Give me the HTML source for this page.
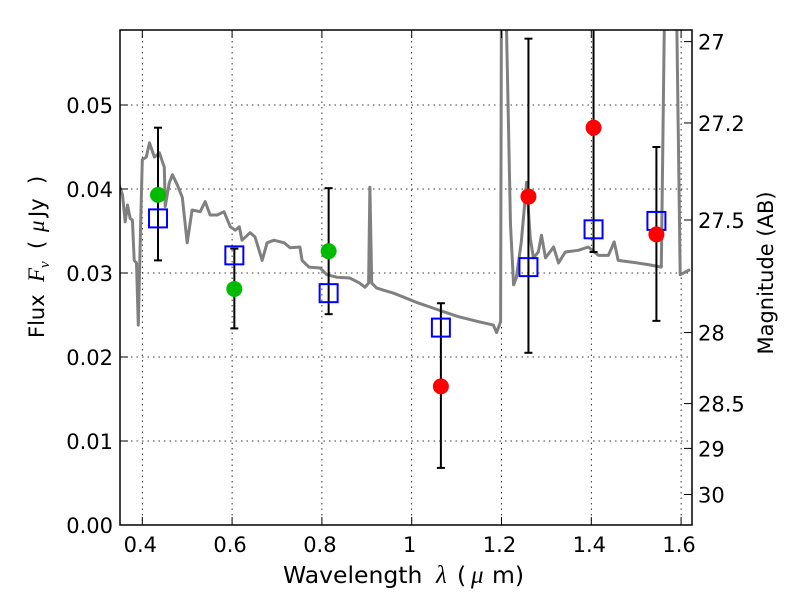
<!DOCTYPE html>
<html><head><meta charset="utf-8"><style>
body{margin:0;background:#fff}
svg text{font-family:"DejaVu Sans","Liberation Sans",sans-serif;fill:#000}
svg .m{font-family:"Liberation Serif","DejaVu Serif",serif;font-style:italic}
</style></head><body>
<svg id="chart" width="800" height="600" viewBox="0 0 800 600" xmlns="http://www.w3.org/2000/svg">
<defs><clipPath id="clip"><rect x="120" y="30" width="572" height="495"/></clipPath></defs>
<rect width="800" height="600" fill="#fff"/>
<g id="grid"></g>
<g id="spec" clip-path="url(#clip)"></g>
<g id="marks" clip-path="url(#clip)"></g>
<rect x="120" y="30" width="572" height="495" fill="none" stroke="#000" stroke-width="1.5"/>
<g id="axes"></g>
<text y="583" font-size="23.5"><tspan x="283">Wavelength</tspan><tspan x="436" class="m" font-size="25">λ</tspan><tspan x="457">(</tspan><tspan x="471" class="m" font-size="25">μ</tspan><tspan x="492">m)</tspan></text>
<g transform="translate(44,278) rotate(-90)">
<text y="0" font-size="21"><tspan x="-60">Flux</tspan><tspan x="-4" class="m" font-size="23">F</tspan><tspan x="10" class="m" font-size="15" dy="5">ν</tspan><tspan x="29" dy="-5">(</tspan><tspan x="46" class="m" font-size="23">μ</tspan><tspan x="61">Jy</tspan><tspan x="94">)</tspan></text>
</g>
<text transform="translate(773,273) rotate(-90)" text-anchor="middle" font-size="21">Magnitude (AB)</text>
</svg>
<script>
const specW=[0.349,0.356,0.362,0.367,0.373,0.378,0.382,0.387,0.391,0.396,0.4,0.409,0.416,0.427,0.438,0.449,0.451,0.46,0.467,0.478,0.489,0.5,0.511,0.529,0.54,0.551,0.567,0.582,0.596,0.607,0.616,0.622,0.64,0.651,0.667,0.678,0.693,0.716,0.729,0.751,0.756,0.771,0.796,0.811,0.833,0.862,0.884,0.896,0.904,0.907,0.911,0.922,0.96,1.011,1.06,1.104,1.149,1.182,1.189,1.198,1.2,1.209,1.22,1.227,1.233,1.244,1.256,1.264,1.271,1.282,1.289,1.298,1.316,1.327,1.342,1.371,1.393,1.416,1.438,1.451,1.46,1.489,1.527,1.556,1.564,1.589,1.598,1.62];
const specF=[0.0404,0.0393,0.0361,0.0381,0.0365,0.0363,0.0315,0.0312,0.0238,0.0351,0.0435,0.0438,0.0455,0.0438,0.0443,0.0426,0.0379,0.0407,0.0417,0.0405,0.039,0.0336,0.0375,0.0373,0.0385,0.0369,0.0369,0.0373,0.0355,0.0351,0.0355,0.0339,0.0348,0.0343,0.0315,0.0336,0.0339,0.0336,0.033,0.0331,0.0315,0.0307,0.0306,0.0298,0.0295,0.0294,0.0288,0.0283,0.0288,0.0402,0.0288,0.0282,0.0276,0.0265,0.0256,0.0248,0.0242,0.0238,0.0229,0.0242,0.065,0.065,0.0357,0.0286,0.0294,0.0337,0.0408,0.0342,0.0318,0.0325,0.0345,0.0318,0.0331,0.0312,0.0325,0.0327,0.0331,0.0321,0.0321,0.0337,0.0315,0.0313,0.031,0.0307,0.065,0.065,0.0298,0.0304];
const bandW=[0.435,0.605,0.815,1.065,1.26,1.405,1.545];
const obsF=[0.0393,0.0281,0.0326,0.0165,0.0391,0.0473,0.0346];
const obsColor=['#00bb00','#00bb00','#00bb00','#ff0000','#ff0000','#ff0000','#ff0000'];
const errLo=[0.0315,0.0234,0.0251,0.0068,0.0205,0.0325,0.0243];
const errHi=[0.0473,0.0329,0.0401,0.0264,0.0579,0.065,0.045];
const modelF=[0.0365,0.0321,0.0276,0.0235,0.0307,0.0352,0.0362];
const xTicks=[0.4,0.6,0.8,1.0,1.2,1.4,1.6];
const xLabels=['0.4','0.6','0.8','1','1.2','1.4','1.6'];
const yTicks=[0,0.01,0.02,0.03,0.04,0.05];
const yLabels=['0.00','0.01','0.02','0.03','0.04','0.05'];
const magTicks=[27,27.2,27.5,28,28.5,29,30];
const magLabels=['27','27.2','27.5','28','28.5','29','30'];
const NS='http://www.w3.org/2000/svg';
const X=w=>142.3+(w-0.4)*449;
const Y=f=>525-f*8400;
const magToF=m=>Math.pow(10,(23.9-m)/2.5);
function mk(tag,attrs,parent){const e=document.createElementNS(NS,tag);for(const k in attrs)e.setAttribute(k,attrs[k]);parent.appendChild(e);return e;}
const grid=document.getElementById('grid'),axes=document.getElementById('axes'),spec=document.getElementById('spec'),marks=document.getElementById('marks');
xTicks.forEach((t,i)=>{const x=X(t);
 const g=mk('line',{x1:x,x2:x,y1:30,y2:525,stroke:'#000','stroke-width':0.8,'stroke-dasharray':'1.5,4'},grid);
 
 
 mk('line',{x1:x,x2:x,y1:525,y2:517,stroke:'#000','stroke-width':1},axes);
 mk('line',{x1:x,x2:x,y1:30,y2:38,stroke:'#000','stroke-width':1},axes);
 const tx=mk('text',{x:x-2,y:552,'text-anchor':'middle','font-size':21},axes);tx.textContent=xLabels[i];
 
 });
yTicks.forEach((t,i)=>{const y=Y(t);
 const g=mk('line',{x1:120,x2:692,y1:y,y2:y,stroke:'#000','stroke-width':0.8,'stroke-dasharray':'1.5,4'},grid);
 
 
 mk('line',{x1:120,x2:128,y1:y,y2:y,stroke:'#000','stroke-width':1},axes);
 const tx=mk('text',{x:113,y:y+8,'text-anchor':'end','font-size':21},axes);tx.textContent=yLabels[i];
 
 });
magTicks.forEach((m,i)=>{const y=Y(magToF(m));
 mk('line',{x1:684,x2:692,y1:y,y2:y,stroke:'#000','stroke-width':1},axes);
 const tx=mk('text',{x:698,y:y+8,'font-size':21},axes);tx.textContent=magLabels[i];
 
 });
let d='';specW.forEach((w,i)=>{d+=(i?'L':'M')+X(w).toFixed(1)+','+Y(specF[i]).toFixed(1);});
const p=mk('path',{d:d,fill:'none',stroke:'#808080','stroke-width':3,'stroke-linejoin':'round'},spec);


bandW.forEach((w,i)=>{const x=X(w);
 const e=mk('g',{},marks);
 
 
 mk('line',{x1:x,x2:x,y1:Y(errLo[i]),y2:Y(errHi[i]),stroke:'#000','stroke-width':2},e);
 mk('line',{x1:x-4,x2:x+4,y1:Y(errLo[i]),y2:Y(errLo[i]),stroke:'#000','stroke-width':2},e);
 mk('line',{x1:x-4,x2:x+4,y1:Y(errHi[i]),y2:Y(errHi[i]),stroke:'#000','stroke-width':2},e);});
bandW.forEach((w,i)=>{
 const s=mk('rect',{x:X(w)-9,y:Y(modelF[i])-9,width:18,height:18,fill:'none',stroke:'#0000ff','stroke-width':2},marks);
 
 });
bandW.forEach((w,i)=>{
 const c=mk('circle',{cx:X(w),cy:Y(obsF[i]),r:8,fill:obsColor[i]},marks);
 
 });
</script>
</body></html>
